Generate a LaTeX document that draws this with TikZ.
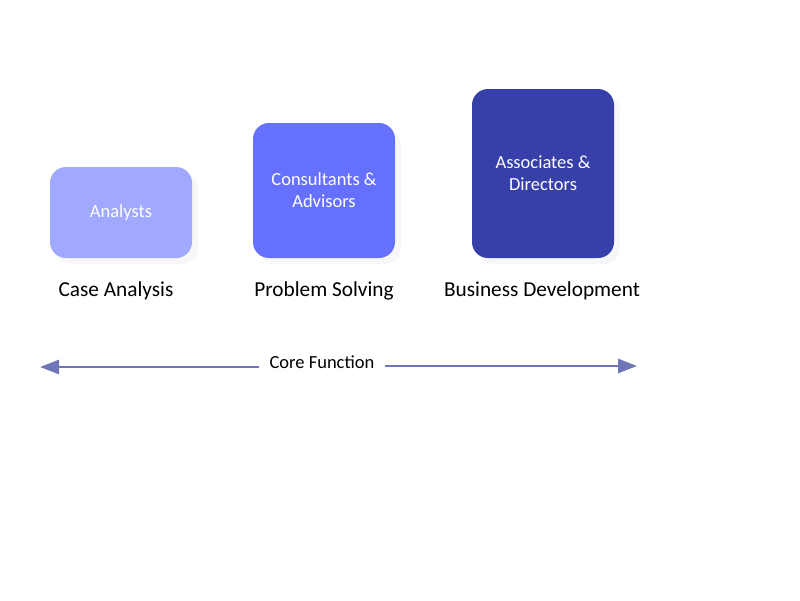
\documentclass[tikz,border=0pt]{standalone}
\usepackage{fontspec}
\setmainfont{Carlito}
\usetikzlibrary{arrows.meta,shadows}
\definecolor{analystcol}{HTML}{A0A8FF}
\definecolor{consultcol}{HTML}{6670FF}
\definecolor{associcol}{HTML}{373FA8}
\definecolor{arrowcol}{HTML}{6E76B8}

\begin{document}
\begin{tikzpicture}[x=1pt,y=-1pt,
  rolebox/.style={rounded corners=16pt, minimum width=142pt, inner sep=0pt,
    text=white, align=center, font=\fontsize{18.5}{22}\selectfont,
    drop shadow={shadow xshift=6pt, shadow yshift=-6pt, fill=black, opacity=0.03}},
  funclabel/.style={font=\fontsize{21.3}{24}\selectfont},
  corearrow/.style={arrowcol, line width=2.8pt, -{Triangle[length=19pt,width=14pt]}}]
  \useasboundingbox (0,0) rectangle (800,600);
  \node[rolebox, fill=analystcol, minimum height=91pt] (analysts) at (121,212.5) {Analysts};
  \node[rolebox, fill=consultcol, minimum height=135pt] (consultants) at (324,190.5) {Consultants \&\\Advisors};
  \node[rolebox, fill=associcol, minimum height=169pt] (associates) at (543,173.5) {Associates \&\\Directors};

  \node[funclabel] (caseanalysis) at (116,291) {Case Analysis};
  \node[funclabel] (problemsolving) at (324,291) {Problem Solving};
  \node[funclabel] (busdev) at (542,291) {Business Development};

  \node[font=\fontsize{18.5}{22}\selectfont, inner xsep=10pt] (core) at (322,362) {Core Function};
  \coordinate (lefttip) at (40,367);
  \coordinate (righttip) at (637,366);
  \draw[corearrow] (core.west |- lefttip) -- (lefttip);
  \draw[corearrow] (core.east |- righttip) -- (righttip);
\end{tikzpicture}
\end{document}
